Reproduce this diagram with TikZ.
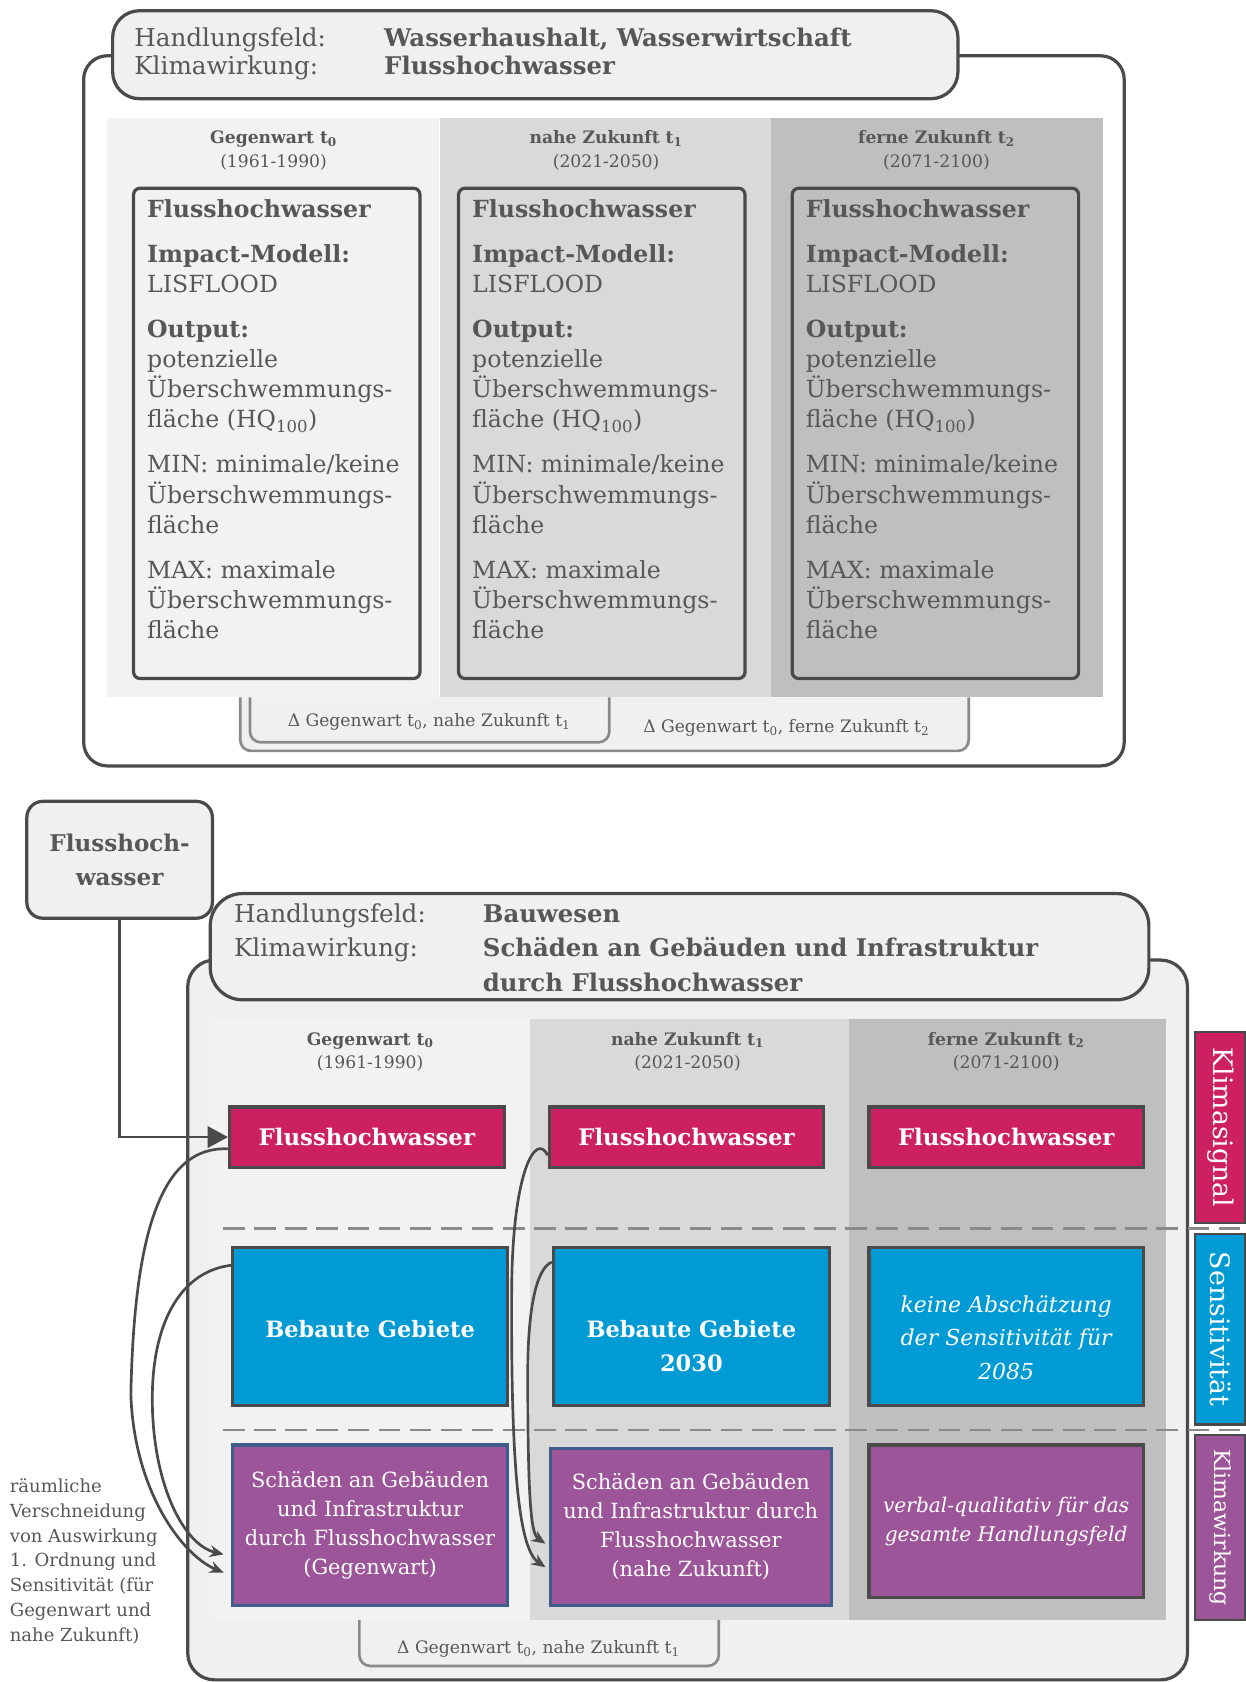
\documentclass[tikz,border=0pt]{standalone}
\usepackage{fontspec}
\setmainfont{DejaVu Serif}
\usetikzlibrary{arrows.meta}

\definecolor{dark}{HTML}{4A4A4A}
\definecolor{txtgrey}{HTML}{575757}
\definecolor{hdrfill}{HTML}{EFF0EF}
\definecolor{colA}{HTML}{F2F2F2}
\definecolor{colB}{HTML}{D9D9D9}
\definecolor{colC}{HTML}{BFBFBF}
\definecolor{sigred}{HTML}{CC2060}
\definecolor{sensblue}{HTML}{009AD4}
\definecolor{wirkpurple}{HTML}{9D5599}
\definecolor{wirkline}{HTML}{3E5C8C}
\definecolor{deltagrey}{HTML}{8A8A8A}

\newcommand{\fsz}[2]{\fontsize{#1}{#2}\selectfont}
\newcommand{\impacttext}{\textbf{Flusshochwasser}\\[14pt]
  \textbf{Impact-Modell:}\\ LISFLOOD\\[14pt]
  \textbf{Output:}\\ potenzielle\\ Überschwemmungs-\\ fläche (HQ\textsubscript{100})\\[14pt]
  MIN: minimale/keine\\ Überschwemmungs-\\ fläche\\[14pt]
  MAX: maximale\\ Überschwemmungs-\\ fläche}

\begin{document}
\begin{tikzpicture}[x=1pt,y=-1pt]
  \tikzstyle{boxline}=[draw=dark,line width=3pt]
  \tikzstyle{hdrbox}=[boxline,fill=hdrfill,rounded corners=25pt]
  \tikzstyle{hdrtext}=[anchor=base west,inner sep=0pt,text=txtgrey,font=\fsz{23}{26}]
  \tikzstyle{hdrbold}=[hdrtext,font=\bfseries\fsz{22.7}{26}]
  \tikzstyle{colhead}=[align=center,text=txtgrey,font=\fsz{16}{22}]
  \tikzstyle{inbox}=[boxline,rounded corners=6pt,minimum width=267pt,minimum height=457pt]
  \tikzstyle{intext}=[anchor=north west,inner sep=0pt,align=left,text=txtgrey,font=\fsz{22}{28}]
  \tikzstyle{deltalbl}=[text=txtgrey,font=\fsz{16}{20}]
  \tikzstyle{deltabracket}=[draw=deltagrey,line width=2.5pt,rounded corners=10pt,fill=hdrfill]
  \tikzstyle{cellbox}=[boxline,text=white,align=center,minimum width=256pt]
  \tikzstyle{sigbox}=[cellbox,fill=sigred,minimum height=56pt,font=\bfseries\fsz{21.3}{28}]
  \tikzstyle{sensbox}=[cellbox,fill=sensblue,minimum height=147pt,font=\bfseries\fsz{21}{32}]
  \tikzstyle{wirkbox}=[cellbox,fill=wirkpurple,minimum height=150pt,font=\fsz{19.5}{27}]
  \tikzstyle{celltext}=[text=white,align=center]
  \tikzstyle{sidebox}=[draw=dark,line width=2pt,rotate=-90,text=white,minimum height=47pt,font=\fsz{25}{28}]
  \tikzstyle{dashline}=[draw=deltagrey,line width=2.5pt,dash pattern=on 20pt off 9pt]
  \tikzstyle{conn}=[draw=dark,line width=2.5pt]

  \useasboundingbox (0,0) rectangle (1161,1568);

  % upper block
  \draw[boxline,fill=white,rounded corners=22pt] (78,52) rectangle (1048,714);
  \foreach \x/\c in {100/colA,410/colB,719/colC}
    \fill[\c] (\x,110) rectangle ++(309,540);
  \path[deltabracket] (224,650) -- (224,700) -- (903,700) -- (903,650);
  \path[deltabracket] (233,650) -- (233,692) -- (568,692) -- (568,650);
  \node[deltalbl] (dW1) at (400,673) {Δ Gegenwart t\textsubscript{0}, nahe Zukunft t\textsubscript{1}};
  \node[deltalbl] (dW2) at (733,679) {Δ Gegenwart t\textsubscript{0}, ferne Zukunft t\textsubscript{2}};

  \node[hdrbox,minimum width=788pt,minimum height=82pt] (hdrW) at (499,51) {};
  \node[hdrtext] (hfW) at (125,43) {Handlungsfeld:};
  \node[hdrtext] (kwW) at (125,69) {Klimawirkung:};
  \node[hdrbold] (hfWv) at (358,43) {Wasserhaushalt, Wasserwirtschaft};
  \node[hdrbold] (kwWv) at (358,69) {Flusshochwasser};

  \foreach \n/\x/\cx/\lbl/\yrs in {A/123/255/Gegenwart t\textsubscript{0}/1961-1990,
                                    B/426/565/nahe Zukunft t\textsubscript{1}/2021-2050,
                                    C/737/873/ferne Zukunft t\textsubscript{2}/2071-2100}{
    \node[colhead] (headW\n) at (\cx,140) {\textbf{\lbl}\\(\yrs)};
    \node[inbox,anchor=north west] (boxW\n) at (\x,174) {};
    \node[intext] (txtW\n) at ([xshift=14pt,yshift=-12pt]boxW\n.north west) {\impacttext};
  }

  % lower block
  \node[hdrbox,rounded corners=15pt,minimum width=173pt,minimum height=109pt,
        align=center,text=txtgrey,font=\bfseries\fsz{21.5}{31}] (fw) at (111.5,801.5) {Flusshoch-\\wasser};
  \draw[boxline,fill=hdrfill,rounded corners=25pt] (175,895) rectangle (1107,1566);
  \node[hdrbox,rounded corners=30pt,minimum width=875pt,minimum height=99pt] (hdrB) at (633.5,882.5) {};
  \node[hdrtext] (hfB) at (218,860) {Handlungsfeld:};
  \node[hdrtext] (kwB) at (218,892) {Klimawirkung:};
  \node[hdrbold] (hfBv) at (450,860) {Bauwesen};
  \node[hdrbold] (kwBv) at (450,892) {Schäden an Gebäuden und Infrastruktur};
  \node[hdrbold] (kwBw) at (450,924) {durch Flusshochwasser};

  \foreach \x/\w/\c in {196/298/colA,494/297/colB,791/296/colC}
    \fill[\c] (\x,950) rectangle ++(\w,560);

  \foreach \n/\cx/\lbl/\yrs in {A/345/Gegenwart t\textsubscript{0}/1961-1990,
                                B/641/nahe Zukunft t\textsubscript{1}/2021-2050,
                                C/938/ferne Zukunft t\textsubscript{2}/2071-2100}
    \node[colhead] (headB\n) at (\cx,980.5) {\textbf{\lbl}\\(\yrs)};

  \draw[dashline] (208,1145) -- (1161,1145);
  \draw[dashline] (208,1333) -- (1161,1333);

  \foreach \n/\cx in {A/342,B/640,C/938}
    \node[sigbox] (sig\n) at (\cx,1060) {Flusshochwasser};
  \node[sensbox] (sensA) at (345,1236.5) {};
  \node[celltext,font=\bfseries\fsz{21}{32}] (sensAt) at (345,1239) {Bebaute Gebiete};
  \node[sensbox,minimum width=257pt] (sensB) at (644.5,1236.5) {};
  \node[celltext,font=\bfseries\fsz{21}{32}] (sensBt) at (644.5,1255) {Bebaute Gebiete\\2030};
  \node[sensbox] (sensC) at (938,1236.5) {};
  \node[celltext,font=\itshape\fsz{20.5}{31}] (sensCt) at (938,1247) {keine Abschätzung\\der Sensitivität für\\2085};
  \node[wirkbox,draw=wirkline] (wirkA) at (345,1422) {Schäden an Gebäuden\\und Infrastruktur\\durch Flusshochwasser\\(Gegenwart)};
  \node[wirkbox,draw=wirkline,minimum width=262pt,minimum height=147pt] (wirkB) at (644,1423.5) {Schäden an Gebäuden\\und Infrastruktur durch\\Flusshochwasser\\(nahe Zukunft)};
  \node[wirkbox,minimum height=142pt,font=\itshape\fsz{18.8}{27}] (wirkC) at (938,1418) {verbal-qualitativ für das\\gesamte Handlungsfeld};

  \node[sidebox,fill=sigred,minimum width=178pt] (sideS) at (1137.5,1051) {Klimasignal};
  \node[sidebox,fill=sensblue,minimum width=178pt] (sideE) at (1137.5,1239) {Sensitivität};
  \node[sidebox,fill=wirkpurple,minimum width=172pt,font=\fsz{20.5}{24}] (sideK) at (1137.5,1424) {Klimawirkung};

  \path[deltabracket] (335,1510) -- (335,1553) -- (670,1553) -- (670,1510);
  \node[deltalbl] (dB1) at (502,1537) {Δ Gegenwart t\textsubscript{0}, nahe Zukunft t\textsubscript{1}};

  \node[anchor=north west,align=left,inner sep=0pt,text=txtgrey,font=\fsz{16.8}{23.2}] (note) at (9,1378)
    {räumliche\\Verschneidung\\von Auswirkung\\1. Ordnung und\\Sensitivität (für\\Gegenwart und\\nahe Zukunft)};

  % connectors
  \draw[conn,-{Triangle[length=19pt,width=20pt]}] (fw.south) |- (sigA.west);
  \draw[conn,-{Stealth[length=13pt,width=11pt]}] ([yshift=-11pt]sigA.west)
    .. controls (150,1068) and (125,1150) .. (122,1300)
    .. controls (125,1390) and (170,1450) .. ([xshift=-7pt,yshift=-44pt]wirkA.west);
  \draw[conn,-{Stealth[length=13pt,width=11pt]}] ([yshift=-18pt]sensA.north west)
    .. controls (170,1185) and (143,1230) .. (142,1300)
    .. controls (141,1380) and (170,1440) .. ([xshift=-7pt,yshift=-27pt]wirkA.west);
  \draw[conn,-{Stealth[length=13pt,width=11pt]}] ([yshift=-17pt]sigB.west)
    .. controls (500,1055) and (478,1090) .. (477,1200)
    .. controls (476,1380) and (485,1445) .. ([xshift=-3pt,yshift=-37.5pt]wirkB.west);
  \draw[conn,-{Stealth[length=13pt,width=11pt]}] ([yshift=-15pt]sensB.north west)
    .. controls (500,1182) and (492,1220) .. (492,1280)
    .. controls (492,1400) and (495,1430) .. ([xshift=-3pt,yshift=-15.5pt]wirkB.west);
\end{tikzpicture}
\end{document}
